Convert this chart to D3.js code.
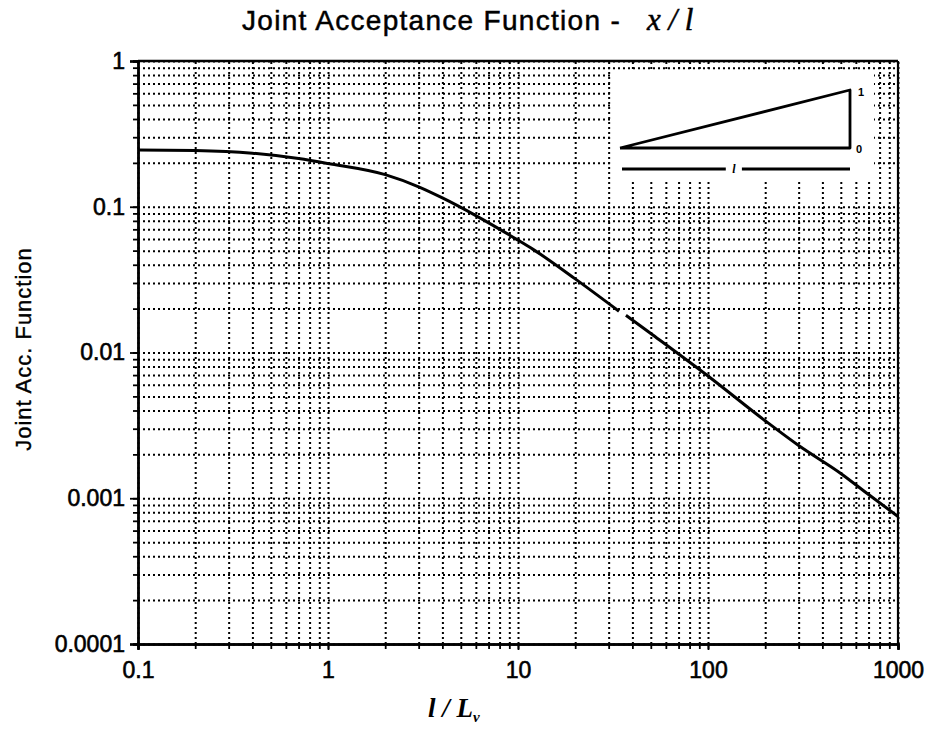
<!DOCTYPE html>
<html>
<head>
<meta charset="utf-8">
<script src="https://cdnjs.cloudflare.com/ajax/libs/d3/7.8.5/d3.min.js"></script>
<style>
  body { margin: 0; background: #fff; }
  svg { display: block; }
</style>
</head>
<body>
<div id="chart"></div>
<script>
/*
  Joint acceptance function, log-log
*/

// l/Lv ratio and joint acceptance (null = break in the curve)
var ratio = [0.1, 0.2, 0.4, 0.7, 1, 2, 3, 4, 6, 10, 12, 20, 34, 36, 37, 50, 100, 200, 300, 500, 700, 1000];
var jointAcc = [0.245, 0.243, 0.233, 0.214, 0.198, 0.166, 0.137, 0.115, 0.087, 0.059, 0.051, 0.032, 0.0192, null, 0.018, 0.0135, 0.0069, 0.0034, 0.0023, 0.00148, 0.00106, 0.00075];

var xTickLabels = ["0.1", "1", "10", "100", "1000"];
var yTickLabels = ["0.0001", "0.001", "0.01", "0.1", "1"];

// mode shape x/l for the little inset diagram
var shapeX = [0, 1, 1, 0];
var shapeY = [0, 1, 0, 0];

var margin = {top: 61, right: 36, bottom: 85, left: 138},
    totalW = 934,
    totalH = 729,
    width = totalW - margin.left - margin.right,
    height = totalH - margin.top - margin.bottom,
    font = "'Liberation Sans', Arial, Helvetica, sans-serif",
    serif = "'Liberation Serif', 'Times New Roman', serif";

function decadeValues(lo, hi){
  var out = [];
  for(var e = lo; e < hi; e++){
    for(var m = 1; m < 10; m++) out.push(+(m * Math.pow(10, e)).toPrecision(3));
  }
  out.push(Math.pow(10, hi));
  return out;
}

var xAll = decadeValues(-1, 3),
    yAll = decadeValues(-4, 0),
    xMajor = xTickLabels.map(Number),
    yMajor = yTickLabels.map(Number);

var svg = d3.select("#chart").append("svg")
    .attr("width", totalW)
    .attr("height", totalH);

var g = svg.append("g")
    .attr("transform", "translate(" + margin.left + "," + margin.top + ")");

var x = d3.scaleLog().domain([0.1, 1000]).range([0, width]);
var y = d3.scaleLog().domain([0.0001, 1]).range([height, 0]);

// dotted grid
g.append("g")
  .attr("class", "grid")
  .attr("transform", "translate(0," + height + ")")
  .call(d3.axisBottom(x).tickValues(xAll).tickSize(-height).tickFormat(""))
  .call(function(s){ s.select(".domain").remove(); });

g.append("g")
  .attr("class", "grid")
  .call(d3.axisLeft(y).tickValues(yAll).tickSize(-width).tickFormat(""))
  .call(function(s){ s.select(".domain").remove(); });

g.selectAll(".grid line")
  .style("stroke", "#000")
  .style("stroke-width", 2)
  .style("stroke-dasharray", "2,3");

// white panel behind the inset diagram
var inset = {x0: 474, x1: 736, y0: 10, y1: 119};
g.append("rect")
  .attr("x", inset.x0)
  .attr("y", inset.y0)
  .attr("width", inset.x1 - inset.x0)
  .attr("height", inset.y1 - inset.y0)
  .style("fill", "#fff");

var sx = d3.scaleLinear().domain([0, 1]).range([inset.x0 + 8, inset.x0 + 238]);
var sy = d3.scaleLinear().domain([0, 1]).range([inset.y0 + 77, inset.y0 + 19]);

g.append("path")
  .datum(d3.range(shapeX.length))
  .attr("d", d3.line().x(function(i){ return sx(shapeX[i]); }).y(function(i){ return sy(shapeY[i]); }))
  .style("fill", "none")
  .style("stroke", "#000")
  .style("stroke-width", 2.8)
  .style("stroke-linejoin", "round");

g.append("text").attr("x", sx(1) + 8).attr("y", sy(1) + 6)
  .style("font-family", font).style("font-size", "11px").style("font-weight", "bold").text("1");
g.append("text").attr("x", sx(1) + 6).attr("y", sy(0) + 5)
  .style("font-family", font).style("font-size", "11px").style("font-weight", "bold").text("0");

// length dimension line
var dimY = sy(0) + 21;
g.append("line").attr("x1", sx(0) + 2).attr("x2", sx(0.46)).attr("y1", dimY).attr("y2", dimY)
  .style("stroke", "#000").style("stroke-width", 2.8);
g.append("line").attr("x1", sx(0.53)).attr("x2", sx(1)).attr("y1", dimY).attr("y2", dimY)
  .style("stroke", "#000").style("stroke-width", 2.8);
g.append("text").attr("x", sx(0.495)).attr("y", dimY + 4)
  .style("text-anchor", "middle")
  .style("font-family", serif).style("font-style", "italic").style("font-weight", "bold")
  .style("font-size", "12px").text("l");

// axes
function styleAxis(s){
  s.select(".domain").style("stroke", "#000").style("stroke-width", 2.4);
  s.selectAll(".tick line").style("stroke", "#000").style("stroke-width", 1.8);
  s.selectAll("text")
    .style("font-family", font).style("font-size", "23px").style("fill", "#000")
    .style("stroke", "#000").style("stroke-width", 0.6);
}

g.append("g")
  .attr("transform", "translate(0," + height + ")")
  .call(d3.axisBottom(x).tickValues(xAll).tickSize(5).tickFormat(""))
  .call(styleAxis);

g.append("g")
  .attr("class", "xAxis")
  .attr("transform", "translate(0," + height + ")")
  .call(d3.axisBottom(x).tickValues(xMajor).tickSize(6).tickPadding(12)
    .tickFormat(function(d, i){ return xTickLabels[i]; }))
  .call(styleAxis);

g.append("g")
  .call(d3.axisLeft(y).tickValues(yAll).tickSize(5).tickFormat(""))
  .call(styleAxis);

g.append("g")
  .attr("class", "yAxis")
  .call(d3.axisLeft(y).tickValues(yMajor).tickSize(8).tickPadding(5)
    .tickFormat(function(d, i){ return yTickLabels[i]; }))
  .call(styleAxis);

// frame on top and right
g.append("line").attr("x1", 0).attr("x2", width).attr("y1", 0).attr("y2", 0)
  .style("stroke", "#000").style("stroke-width", 2.4);
g.append("line").attr("x1", width).attr("x2", width).attr("y1", 0).attr("y2", height)
  .style("stroke", "#000").style("stroke-width", 2.2);

// the curve
var line = d3.line()
  .defined(function(i){ return jointAcc[i] !== null; })
  .curve(d3.curveMonotoneX)
  .x(function(i){ return x(ratio[i]); })
  .y(function(i){ return y(jointAcc[i]); });

g.append("path")
  .datum(d3.range(ratio.length))
  .attr("d", line)
  .style("fill", "none")
  .style("stroke", "#000")
  .style("stroke-width", 3)
  .style("stroke-linejoin", "round");

// titles
var title = svg.append("text")
  .attr("x", 242)
  .attr("y", 30)
  .style("font-family", font)
  .style("font-size", "28px")
  .style("letter-spacing", "1.3px")
  .style("fill", "#000")
  .style("stroke", "#000")
  .style("stroke-width", 0.5);
title.append("tspan").text("Joint Acceptance Function -");
title.append("tspan")
  .attr("x", 647)
  .style("font-family", serif)
  .style("font-style", "italic")
  .style("font-size", "31px")
  .style("letter-spacing", "0px")
  .text("x / l");

svg.append("text")
  .attr("transform", "translate(31," + 349 + ") rotate(-90)")
  .style("text-anchor", "middle")
  .style("font-family", font)
  .style("font-size", "22px")
  .style("letter-spacing", "1px")
  .style("stroke", "#000")
  .style("stroke-width", 0.4)
  .text("Joint Acc. Function");

var xl = svg.append("text")
  .attr("x", 428)
  .attr("y", 717)
  .style("font-family", serif)
  .style("font-style", "italic")
  .style("font-weight", "bold")
  .style("font-size", "27px");
xl.append("tspan").text("l / L");
xl.append("tspan").attr("dy", 5).style("font-size", "15px").text("v");
</script>
</body>
</html>
